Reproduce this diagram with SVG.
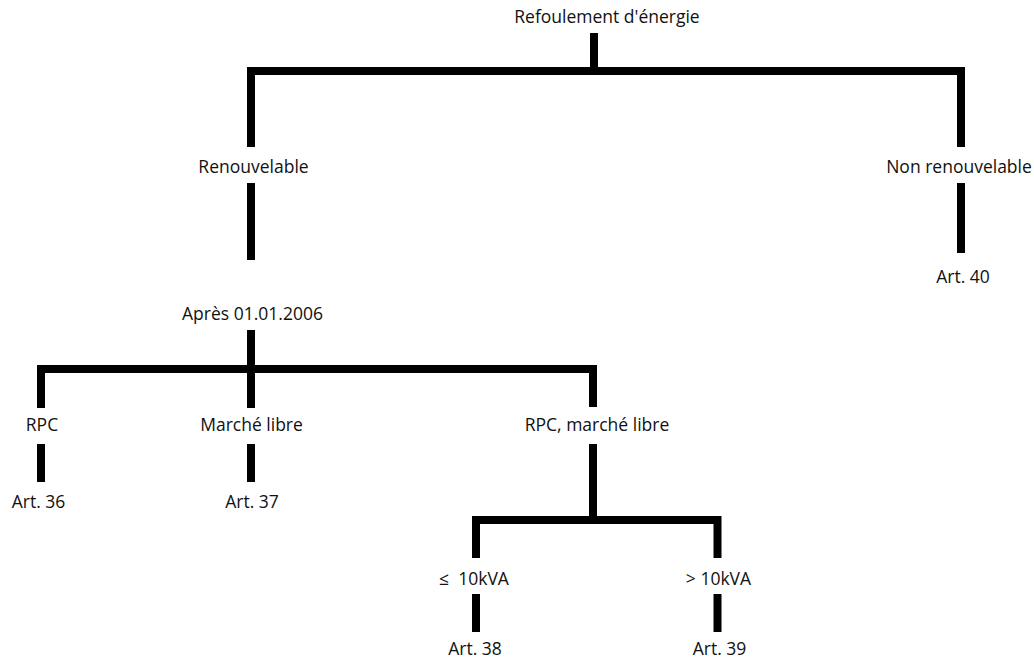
<svg xmlns="http://www.w3.org/2000/svg" width="1034" height="661" viewBox="0 0 1034 661">
<style>
text{font-family:"Open Sans","Liberation Sans",sans-serif;font-size:17.5px;fill:#111;text-anchor:middle}
.c{fill:none;stroke:#000;stroke-width:8;stroke-linecap:butt;stroke-linejoin:miter}
</style>
<rect width="1034" height="661" fill="#fff"/>
<g id="connectors">
<path class="c" d="M594 33V71"/>
<path class="c" d="M251 147V71H961V147"/>
<path class="c" d="M251 183V260"/>
<path class="c" d="M961 183V253"/>
<path class="c" d="M251 330V408"/>
<path class="c" d="M41 408V369H593V407"/>
<path class="c" d="M41 444V482"/>
<path class="c" d="M251 444V482"/>
<path class="c" d="M593 444V520"/>
<path class="c" d="M476 558V520H717.5V558"/>
<path class="c" d="M476 594V632"/>
<path class="c" d="M717.5 594V632"/>
</g>
<g id="n-root"><text x="607" y="23">Refoulement d'énergie</text></g>
<g id="n-renouv"><text x="253.5" y="173">Renouvelable</text></g>
<g id="n-nonrenouv"><text x="959" y="173">Non renouvelable</text></g>
<g id="n-art40"><text x="963" y="283">Art. 40</text></g>
<g id="n-apres"><text x="252.5" y="320">Après 01.01.2006</text></g>
<g id="n-rpc"><text x="42" y="431">RPC</text></g>
<g id="n-marche"><text x="251.5" y="431">Marché libre</text></g>
<g id="n-rpcmarche"><text x="597" y="431">RPC, marché libre</text></g>
<g id="n-art36"><text x="38.5" y="508">Art. 36</text></g>
<g id="n-art37"><text x="252" y="508">Art. 37</text></g>
<g id="n-le10"><text x="474" y="585">≤&#160; 10kVA</text></g>
<g id="n-gt10"><text x="718.5" y="585">&gt; 10kVA</text></g>
<g id="n-art38"><text x="475" y="655">Art. 38</text></g>
<g id="n-art39"><text x="719.5" y="655">Art. 39</text></g>
</svg>
